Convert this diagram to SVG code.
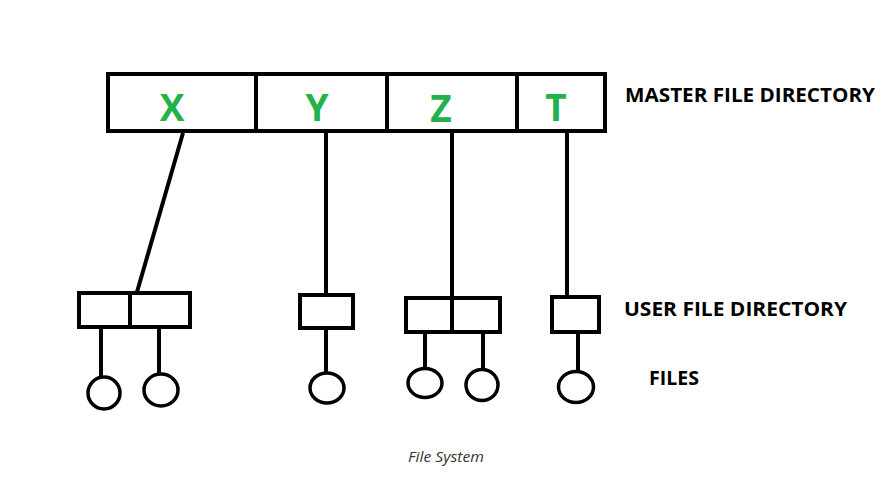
<svg xmlns="http://www.w3.org/2000/svg" width="887" height="490" viewBox="0 0 887 490">
<style>
.b{fill:#fff;stroke:#000;stroke-width:4}
.l{stroke:#000;stroke-width:4;fill:none;stroke-linecap:butt}
.f{fill:#fff;stroke:#000;stroke-width:3.5}
.g{font-family:"Open Sans","DejaVu Sans",sans-serif;font-weight:bold;font-size:37px;fill:#22b14c;text-anchor:middle}
.k{font-family:"Open Sans","DejaVu Sans",sans-serif;font-weight:bold;font-size:20px;fill:#000}
.c{font-family:"Open Sans","DejaVu Sans",sans-serif;font-style:italic;font-size:14px;fill:#333}
</style>
<rect width="887" height="490" fill="#fff"/>
<g id="connectors">
<line class="l" x1="183" y1="133" x2="137" y2="292"/>
<line class="l" x1="326" y1="133" x2="326" y2="295"/>
<line class="l" x1="452" y1="133" x2="452" y2="298"/>
<line class="l" x1="567" y1="133" x2="567" y2="297"/>
<line class="l" x1="101" y1="329" x2="101" y2="379"/>
<line class="l" x1="159" y1="329" x2="159" y2="376"/>
<line class="l" x1="326" y1="330" x2="326" y2="374"/>
<line class="l" x1="425" y1="334" x2="425" y2="370"/>
<line class="l" x1="483" y1="334" x2="483" y2="371"/>
<line class="l" x1="578" y1="334" x2="578" y2="372"/>
</g>
<g id="master">
<rect class="b" x="108" y="74" width="497" height="57"/>
<line class="l" x1="256" y1="74" x2="256" y2="133"/>
<line class="l" x1="387" y1="74" x2="387" y2="133"/>
<line class="l" x1="517" y1="74" x2="517" y2="133"/>
<text class="g" x="172" y="121">X</text>
<text class="g" x="317" y="121">Y</text>
<text class="g" x="441" y="122">Z</text>
<text class="g" x="556" y="121">T</text>
</g>
<g id="ufd-x">
<rect class="b" x="79" y="293" width="111" height="34"/>
<line class="l" x1="130" y1="293" x2="130" y2="329"/>
</g>
<g id="ufd-y"><rect class="b" x="300" y="295" width="53" height="33"/></g>
<g id="ufd-z">
<rect class="b" x="406" y="298" width="94" height="34"/>
<line class="l" x1="452" y1="298" x2="452" y2="334"/>
</g>
<g id="ufd-t"><rect class="b" x="552" y="297" width="47" height="35"/></g>
<g id="files">
<ellipse class="f" cx="104" cy="393" rx="16" ry="16"/>
<ellipse class="f" cx="161" cy="390" rx="17" ry="16"/>
<ellipse class="f" cx="327" cy="388" rx="17" ry="15"/>
<ellipse class="f" cx="425" cy="383" rx="17" ry="14.5"/>
<ellipse class="f" cx="482" cy="385" rx="16" ry="15.5"/>
<ellipse class="f" cx="576" cy="387" rx="17.5" ry="15.5"/>
</g>
<g id="labels">
<text class="k" x="625" y="102" textLength="250" lengthAdjust="spacingAndGlyphs">MASTER FILE DIRECTORY</text>
<text class="k" x="624" y="316" textLength="223" lengthAdjust="spacingAndGlyphs">USER FILE DIRECTORY</text>
<text class="k" x="649" y="385" textLength="50" lengthAdjust="spacingAndGlyphs">FILES</text>
<text class="c" x="408" y="462" textLength="76" lengthAdjust="spacingAndGlyphs">File System</text>
</g>
</svg>
